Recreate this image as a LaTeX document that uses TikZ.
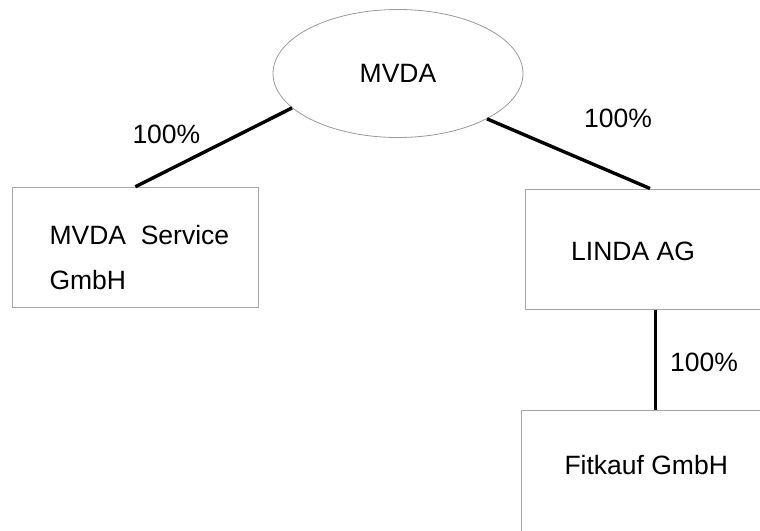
\documentclass[tikz,border=0pt]{standalone}
\usepackage{fontspec}
\setmainfont{Liberation Sans}
\usetikzlibrary{shapes.geometric,calc}
\begin{document}
\begin{tikzpicture}[x=1pt,y=-1pt,
  box/.style={draw=black!35, line width=1pt, rectangle, inner sep=0pt},
  lbl/.style={anchor=base west, inner sep=0pt, font=\fontsize{26.5}{31}\selectfont},
  link/.style={line width=3.4pt}]
\useasboundingbox (0,0) rectangle (760,530);
\clip (0,0) rectangle (760,530);
\node[ellipse, draw=black!40, line width=0.8pt, minimum width=250pt, minimum height=128pt,
      inner sep=0pt, font=\fontsize{26.5}{31}\selectfont] (mvda) at (398,73.5) {MVDA};
\node[box, minimum width=246pt, minimum height=120.4pt] (svc) at (135.3,247.5) {};
\node[lbl] (svc1) at (49.3,244) {MVDA\ \ Service};
\node[lbl] (svc2) at (49.3,289.3) {GmbH};
\node[box, minimum width=254pt, minimum height=120pt] (linda) at (652,249) {};
\node[lbl] (lindat) at (571,260) {LINDA AG};
\node[box, minimum width=268pt, minimum height=240pt] (fit) at (655.7,530.7) {};
\node[lbl] (fitt) at (564.3,474) {Fitkauf GmbH};
\draw[link] (mvda.198) -- (svc.north);
\draw[link] (mvda.-27) -- ($(linda.north)+(-2,0)$);
\draw[link] ($(linda.south)+(3.7,0)$) -- (fit.north);
\node[lbl] (p1) at (132.3,143.3) {100\%};
\node[lbl] (p2) at (584,127.7) {100\%};
\node[lbl] (p3) at (670,371) {100\%};
\end{tikzpicture}
\end{document}
